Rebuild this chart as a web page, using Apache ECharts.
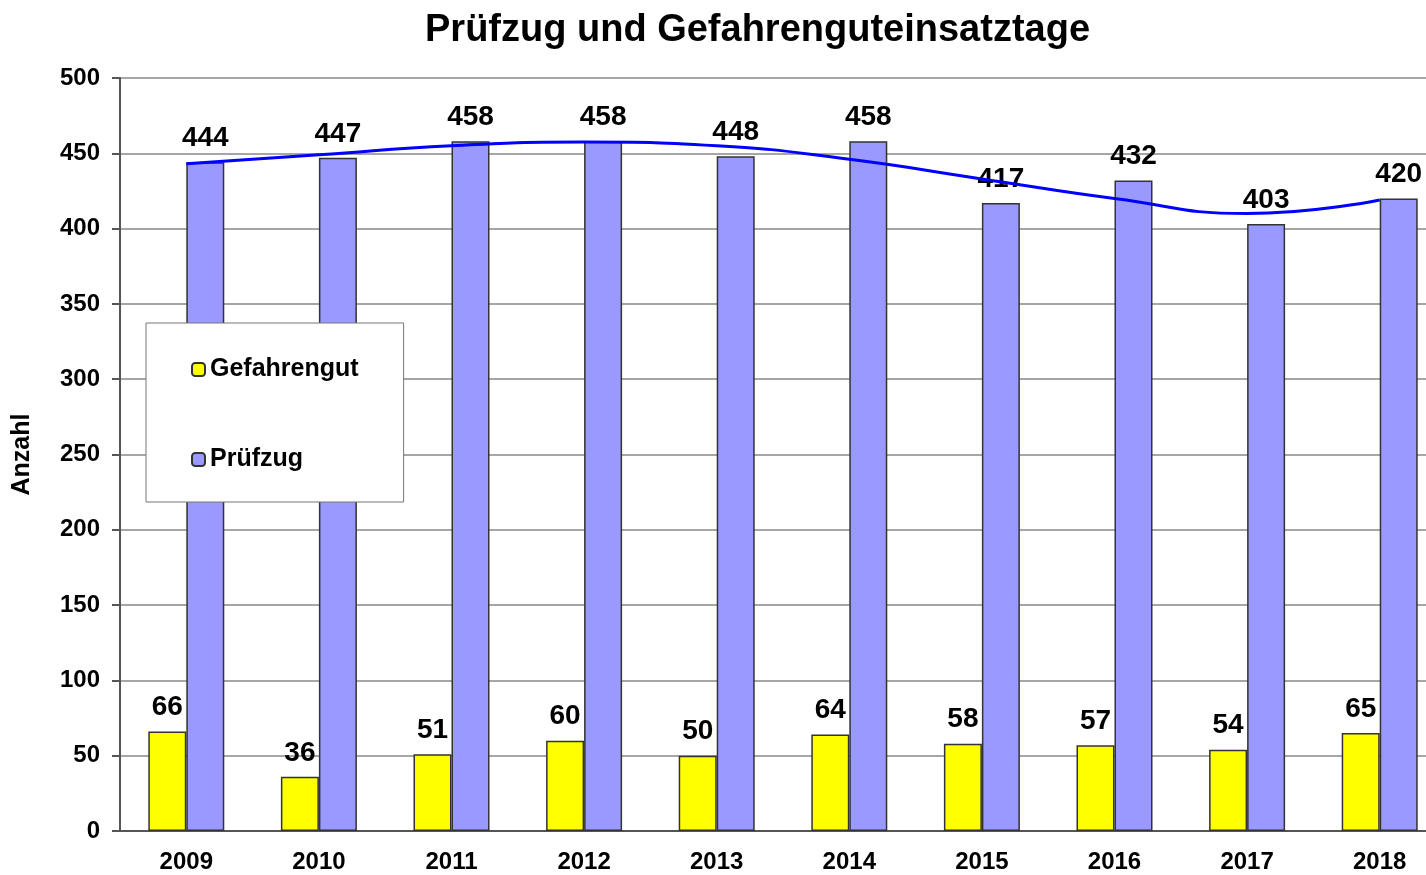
<!DOCTYPE html>
<html lang="de">
<head>
   <meta charset="UTF-8">
   <title>Prüfzug und Gefahrenguteinsatztage</title>
   <script src="https://cdn.jsdelivr.net/npm/echarts@6/dist/echarts.min.js"></script>
   <style type="text/css">
   body{margin:0; padding:0; background:#fff; overflow:hidden;}
   /* the plot runs past the right edge in the original, so the div is wider than the window */
   #main{width:1446px;height:875px;}
   </style>
</head>
<body>
<div id="main"></div>
<script type="text/javascript">
var years = ['2009','2010','2011','2012','2013','2014','2015','2016','2017','2018'];
var gefahrengut = [66, 36, 51, 60, 50, 64, 58, 57, 54, 65];
var pruefzug = [444, 447, 458, 458, 448, 458, 417, 432, 403, 420];
// trend line at the category centres
var trend = [443, 449, 455, 457.5, 455, 446, 433, 420, 410, 419];
var yTicks = [0, 50, 100, 150, 200, 250, 300, 350, 400, 450, 500];

var font = 'Liberation Sans, Arial, sans-serif';
var myChart = echarts.init(document.getElementById('main'));
var option = {
    backgroundColor: '#fff',
    animation: false,
    title: {
        text: 'Prüfzug und Gefahrenguteinsatztage',
        left: 420,
        top: 7,
        textStyle: {fontFamily: font, fontSize: 38, fontWeight: 'bold', color: '#000'}
    },
    legend: {
        data: ['Gefahrengut', 'Prüfzug'],
        orient: 'vertical',
        left: 146,
        top: 323,
        padding: [34, 45, 30, 45],
        itemGap: 65,
        itemWidth: 13,
        itemHeight: 13,
        backgroundColor: '#fff',
        borderColor: '#777',
        borderWidth: 1,
        textStyle: {fontFamily: font, fontSize: 25, fontWeight: 'bold', color: '#000'}
    },
    grid: {
        left: 120,
        right: 0,
        top: 78,
        bottom: 44
    },
    xAxis: {
        type: 'category',
        data: years,
        axisLine: {lineStyle: {color: '#555', width: 2}},
        axisTick: {length: 7, lineStyle: {color: '#555', width: 2}},
        axisLabel: {fontFamily: font, fontSize: 24, fontWeight: 'bold', color: '#000', margin: 19}
    },
    yAxis: {
        type: 'value',
        min: yTicks[0],
        max: yTicks[yTicks.length - 1],
        interval: 50,
        name: 'Anzahl',
        nameLocation: 'middle',
        nameGap: 85,
        nameTextStyle: {fontFamily: font, fontSize: 25, fontWeight: 'bold', color: '#000'},
        axisLine: {show: true, lineStyle: {color: '#555', width: 2}},
        axisTick: {show: true, length: 8, lineStyle: {color: '#555', width: 2}},
        axisLabel: {fontFamily: font, fontSize: 24, fontWeight: 'bold', color: '#000', margin: 20},
        splitLine: {lineStyle: {color: '#888', width: 1.5}}
    },
    series: [
        {
            name: 'Gefahrengut',
            type: 'bar',
            barWidth: 38,
            barGap: '0%',
            data: gefahrengut,
            itemStyle: {color: '#ffff00', borderColor: '#333', borderWidth: 1.5},
            label: {
                show: true, position: 'top', distance: 10,
                fontFamily: font, fontSize: 28, fontWeight: 'bold', color: '#000'
            }
        },
        {
            name: 'Prüfzug',
            type: 'bar',
            barWidth: 38,
            barGap: '0%',
            data: pruefzug,
            itemStyle: {color: '#9999ff', borderColor: '#333', borderWidth: 1.5},
            label: {
                show: true, position: 'top', distance: 10,
                fontFamily: font, fontSize: 28, fontWeight: 'bold', color: '#000'
            }
        },
        {
            name: 'Trend',
            type: 'line',
            data: trend,
            smooth: true,
            showSymbol: false,
            lineStyle: {color: '#0000ff', width: 3},
            z: 5
        }
    ]
};
myChart.setOption(option);
</script>
</body>
</html>
